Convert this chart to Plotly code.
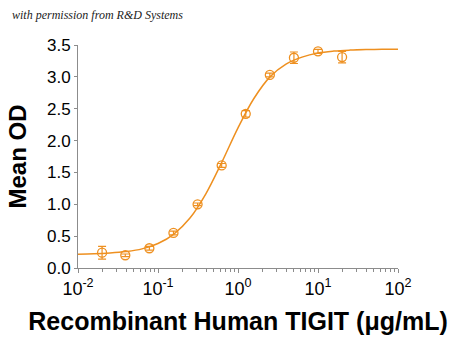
import plotly.graph_objects as go

# Measured points
conc = [0.02, 0.039, 0.078, 0.156, 0.3125, 0.625, 1.25, 2.5, 5, 10, 20]
mean_od = [0.24, 0.20, 0.31, 0.55, 1.00, 1.61, 2.42, 3.03, 3.30, 3.40, 3.31]
err = [0.10, 0.02, 0.03, 0.03, 0.02, 0.03, 0.05, 0.03, 0.09, 0.03, 0.09]

# Fitted curve
curve_x = [0.01, 0.0158, 0.0251, 0.0398, 0.0631, 0.1, 0.158, 0.251, 0.398,
           0.631, 1.0, 1.58, 2.51, 3.98, 6.31, 10, 15.8, 25.1, 39.8, 63.1, 100]
curve_y = [0.216, 0.222, 0.235, 0.258, 0.30, 0.384, 0.533, 0.784, 1.168,
           1.666, 2.20, 2.66, 3.00, 3.20, 3.31, 3.375, 3.405, 3.42, 3.428, 3.432, 3.435]

tick_vals = [0.01, 0.1, 1, 10, 100]
tick_text = ["10<sup>-2</sup>", "10<sup>-1</sup>", "10<sup>0</sup>", "10<sup>1</sup>", "10<sup>2</sup>"]
y_ticks = [0.0, 0.5, 1.0, 1.5, 2.0, 2.5, 3.0, 3.5]

orange = "#EE9020"

fig = go.Figure()
fig.add_trace(go.Scatter(x=curve_x, y=curve_y, mode="lines",
                         line=dict(color=orange, width=1.5, shape="spline"),
                         hoverinfo="skip", showlegend=False))
fig.add_trace(go.Scatter(x=conc, y=mean_od, mode="markers",
                         marker=dict(symbol="circle-open", size=9, color=orange,
                                     line=dict(width=1.3, color=orange)),
                         error_y=dict(type="data", array=err, visible=True,
                                      color=orange, thickness=1.2, width=4),
                         showlegend=False))

fig.update_layout(
    width=450, height=341,
    margin=dict(l=78, r=52, t=45, b=73),
    paper_bgcolor="white", plot_bgcolor="white",
    font=dict(family="Liberation Sans, Arial, sans-serif", color="black"),
    xaxis=dict(type="log", range=[-2, 2], tickvals=tick_vals, ticktext=tick_text,
               showgrid=False, zeroline=False, showline=True, linecolor="#8c8c8c",
               linewidth=1, ticks="outside", ticklen=4, tickcolor="#8c8c8c",
               minor=dict(ticks="outside", ticklen=3, tickcolor="#8c8c8c",
                          dtick="D1", showgrid=False),
               tickfont=dict(size=18),
               title=dict(text="<b>Recombinant Human TIGIT (μg/mL)</b>",
                          font=dict(size=25), standoff=14)),
    yaxis=dict(range=[0, 3.5], tickvals=y_ticks, tickformat=".1f",
               showgrid=False, zeroline=False, showline=True, linecolor="#8c8c8c",
               linewidth=1, ticks="outside", ticklen=3, tickcolor="#8c8c8c",
               tickfont=dict(size=17),
               title=dict(text="<b>Mean OD</b>", font=dict(size=24), standoff=13)),
    annotations=[dict(text="<i>with permission from R&amp;D Systems</i>",
                      xref="paper", yref="paper", x=-0.2125, y=1.1345,
                      xanchor="left", yanchor="middle", showarrow=False,
                      font=dict(family="Liberation Serif, serif", size=12, color="#222"))]
)

fig.write_html("out.html")
